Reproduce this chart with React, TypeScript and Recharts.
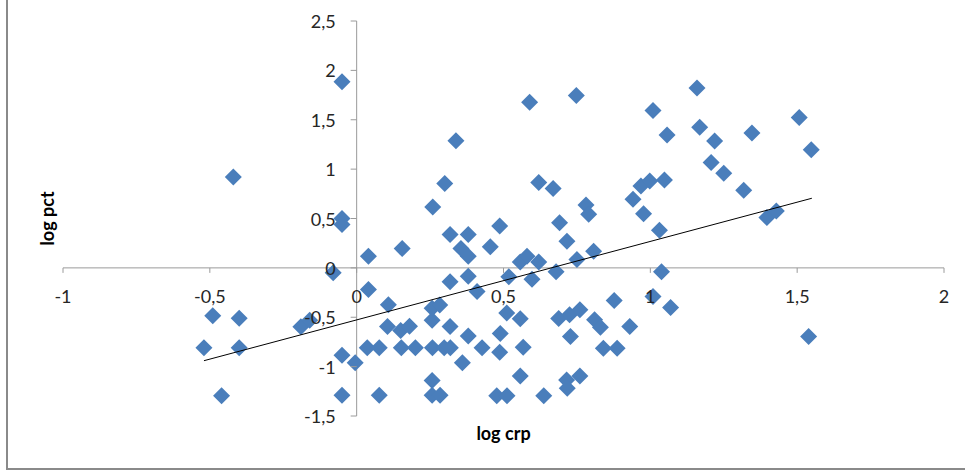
import { ScatterChart, Scatter, XAxis, YAxis, ReferenceLine } from "recharts";

// values
const crp = [
  -0.42, -0.52, -0.49, -0.4, -0.4, -0.46, -0.19, -0.16, -0.08, -0.05, -0.05,
  -0.05, -0.05, -0.005, -0.05, 0.04, 0.04, 0.108, 0.105, 0.15, 0.18, 0.036,
  0.077, 0.152, 0.2, 0.258, 0.298, 0.319, 0.427, 0.077, 0.155, 0.257, 0.257,
  0.283, 0.257, 0.257, 0.284, 0.318, 0.38, 0.355, 0.38, 0.318, 0.38, 0.455,
  0.36, 0.38, 0.318, 0.41, 0.3, 0.259, 0.338,
  0.487, 0.518, 0.557, 0.58, 0.62, 0.597, 0.679, 0.716, 0.75, 0.807, 0.511,
  0.557, 0.489, 0.487, 0.567, 0.557, 0.477, 0.512, 0.637, 0.715, 0.717, 0.76,
  0.688, 0.725, 0.76, 0.728, 0.81, 0.83, 0.84, 0.887, 0.877, 0.93, 0.589,
  0.748, 0.62, 0.669, 0.781, 0.79, 0.691,
  1.009, 1.038, 1.069, 1.539, 1.009, 1.159, 1.507, 1.057, 1.168, 1.219, 1.346,
  1.548, 1.207, 1.25, 1.318, 0.941, 0.977, 0.968, 0.998, 1.048, 1.031, 1.397,
  1.429,
];
const pct = [
  0.92, -0.81, -0.485, -0.51, -0.81, -1.295, -0.595, -0.53, -0.05, 1.885, 0.5,
  0.44, -0.885, -0.96, -1.29, 0.118, -0.22, -0.373, -0.594, -0.635, -0.59,
  -0.81, -0.81, -0.81, -0.81, -0.81, -0.81, -0.81, -0.81, -1.29, 0.195, -0.53,
  -0.41, -0.375, -1.14, -1.29, -1.29, -0.14, -0.085, 0.197, 0.118, 0.339,
  0.339, 0.215, -0.96, -0.69, -0.594, -0.238, 0.855, 0.617, 1.288,
  0.423, -0.09, 0.06, 0.118, 0.06, -0.115, -0.04, 0.27, 0.084, 0.169, -0.458,
  -0.516, -0.665, -0.855, -0.805, -1.095, -1.295, -1.295, -1.295, -1.136,
  -1.22, -1.096, -0.512, -0.475, -0.424, -0.696, -0.526, -0.6, -0.814, -0.814,
  -0.33, -0.594, 1.678, 1.746, 0.865, 0.804, 0.637, 0.542, 0.458,
  -0.289, -0.04, -0.4, -0.696, 1.593, 1.821, 1.522, 1.346, 1.424, 1.285, 1.366,
  1.196, 1.068, 0.959, 0.786, 0.695, 0.549, 0.83, 0.881, 0.891, 0.38, 0.509,
  0.576,
];

// linear trendline end points
const trendX = [-0.52, 1.55];
const trendY = [-0.94, 0.705];

const xTicks = [-1, -0.5, 0, 0.5, 1, 1.5, 2];
const yTicks = [-1.5, -1, -0.5, 0, 0.5, 1, 1.5, 2, 2.5];

const points = crp.map((x, i) => ({ x, y: pct[i] }));
const trend = trendX.map((x, i) => ({ x, y: trendY[i] }));

const W = 965;
const H = 472;
const margin = { top: 21, right: 21, bottom: 55, left: 62 };
// axes take 1px each so they still get drawn
const plotLeft = margin.left + 1;
const plotW = W - plotLeft - margin.right;
const plotH = H - margin.top - margin.bottom - 1;
const xMin = xTicks[0];
const xMax = xTicks[xTicks.length - 1];
const yMin = yTicks[0];
const yMax = yTicks[yTicks.length - 1];
const zeroX = plotLeft + (plotW * (0 - xMin)) / (xMax - xMin);
const zeroY = margin.top + (plotH * yMax) / (yMax - yMin);

const axisColor = "#9a9a9a";
const font = "Lato, 'Open Sans', sans-serif";
const fmt = (v: number) => String(v).replace(".", ",");

const XTick = (props: any) => {
  const { x, payload } = props;
  return (
    <g>
      <line x1={x} x2={x} y1={zeroY} y2={zeroY + 5} stroke={axisColor} />
      <text x={x} y={zeroY + 28} textAnchor="middle" dominantBaseline="central"
        fontFamily={font} fontSize={18} fill="#262626">
        {fmt(payload.value)}
      </text>
    </g>
  );
};

const YTick = (props: any) => {
  const { y, payload } = props;
  return (
    <g>
      <line x1={zeroX - 6} x2={zeroX} y1={y} y2={y} stroke={axisColor} />
      <text x={zeroX - 21} y={y} textAnchor="end" dominantBaseline="central"
        fontFamily={font} fontSize={18} fill="#262626">
        {fmt(payload.value)}
      </text>
    </g>
  );
};

const Diamond = (props: any) => {
  const { cx, cy } = props;
  const r = 8.5;
  return (
    <polygon
      points={`${cx},${cy - r} ${cx + r},${cy} ${cx},${cy + r} ${cx - r},${cy}`}
      fill="#4A7EBB"
    />
  );
};

const XTitle = ({ viewBox }: any) => (
  <text x={viewBox.x + viewBox.width / 2} y={viewBox.y + 17} textAnchor="middle"
    dominantBaseline="central" fontFamily={font} fontSize={18} fontWeight="bold" fill="#000">
    log crp
  </text>
);

const YTitle = ({ viewBox }: any) => {
  const cx = viewBox.x - 15;
  const cy = viewBox.y + viewBox.height / 2;
  return (
    <text x={cx} y={cy} transform={`rotate(-90 ${cx} ${cy})`} textAnchor="middle"
      dominantBaseline="central" fontFamily={font} fontSize={18} fontWeight="bold" fill="#000">
      log pct
    </text>
  );
};

export default function App() {
  return (
    <div style={{ position: "absolute", left: 0, top: 0, width: W, height: H, background: "#fff" }}>
      <div
        style={{
          position: "absolute", left: 6, top: 0, width: W - 6, height: 470,
          boxSizing: "border-box", borderLeft: "2px solid #8a8a8a", borderBottom: "2px solid #8a8a8a",
        }}
      />
      <ScatterChart width={W} height={H} margin={margin} style={{ position: "absolute", left: 0, top: 0 }}>
        <XAxis type="number" dataKey="x" domain={[xMin, xMax]} ticks={xTicks} height={1}
          axisLine={false} tickLine={false} tick={<XTick />} interval={0}
          label={{ content: <XTitle /> }} />
        <YAxis type="number" dataKey="y" domain={[yMin, yMax]} ticks={yTicks} width={1}
          axisLine={false} tickLine={false} tick={<YTick />} interval={0}
          label={{ content: <YTitle /> }} />
        <ReferenceLine y={0} stroke={axisColor} />
        <ReferenceLine x={0} stroke={axisColor} />
        <Scatter data={points} shape={<Diamond />} isAnimationActive={false} />
        <Scatter data={trend} line={{ stroke: "#000", strokeWidth: 1 }} shape={() => <g />}
          isAnimationActive={false} />
      </ScatterChart>
    </div>
  );
}
